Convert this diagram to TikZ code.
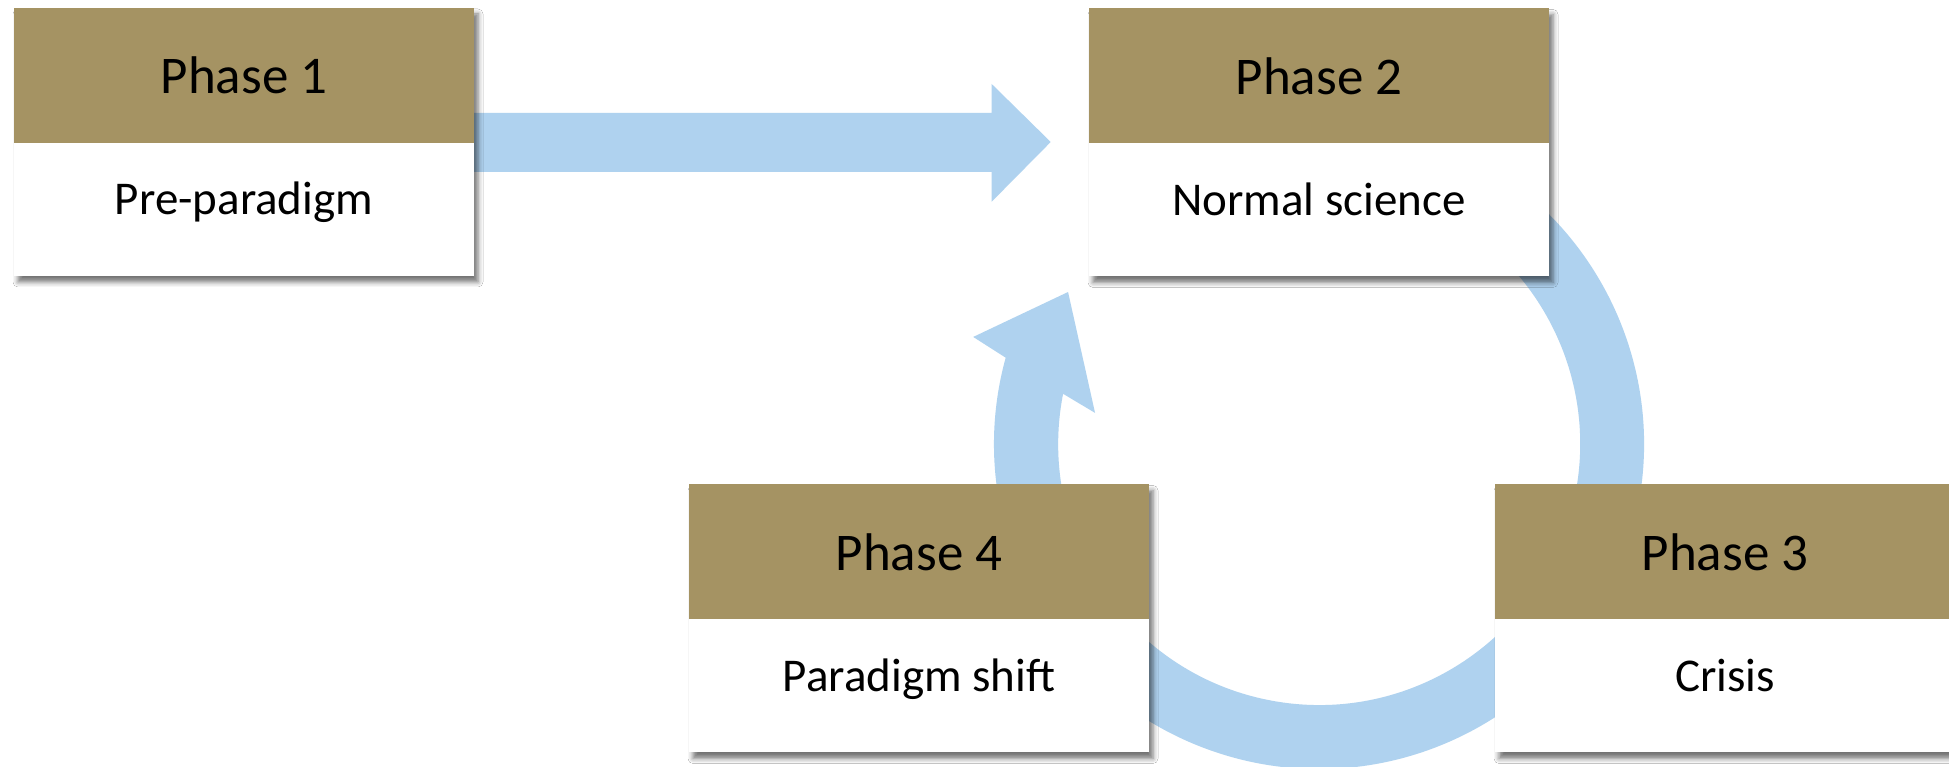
\documentclass[tikz,border=0pt]{standalone}
\usepackage{fontspec}
\setmainfont{Carlito}
\usetikzlibrary{calc,shadows.blur}
\definecolor{hdrgold}{RGB}{165,147,99}
\definecolor{flowblue}{RGB}{175,210,239}
\tikzset{
  boxframe/.style={rectangle, inner sep=0pt, outer sep=0pt, minimum width=460, minimum height=268,
    fill=white, draw=none,
    blur shadow={shadow xshift=4pt, shadow yshift=-6pt, shadow blur radius=5pt, shadow opacity=55}},
  hdr/.style={rectangle, inner sep=0pt, outer sep=0pt, minimum width=460, minimum height=135,
    fill=hdrgold, anchor=north, text height=37pt, text depth=0pt,
    font=\fontsize{53}{60}\selectfont},
  bodytext/.style={rectangle, inner sep=0pt, outer sep=0pt, minimum width=460, minimum height=133,
    anchor=south, text height=11pt, text depth=0pt,
    font=\fontsize{47}{56}\selectfont},
  flow/.style={fill=flowblue, draw=none}
}
\begin{document}
\begin{tikzpicture}[x=1pt,y=1pt]
\useasboundingbox (0,0) rectangle (1949,767);
\clip (0,0) rectangle (1949,767);
\fill[white] (0,0) rectangle (1949,767);

% ring centre
\coordinate (c) at (1319,323);

% straight fat arrow Phase 1 -> Phase 2
\coordinate (s1) at (400,654);
\coordinate (s2) at (400,595);
\coordinate (hb) at (991.7,625);
\coordinate (tip1) at (1050.7,625);
\fill[flow] (s1) -- (hb |- s1) -- (991.7,683) -- (tip1) -- (991.7,565.3) -- (hb |- s2) -- (s2) -- cycle;

% circular arrow
\fill[flow] ($(c)+(70:325)$) arc[start angle=70, end angle=-195.4, radius=325]
  -- ($(c)+(162.8:362)$) -- ($(c)+(148.8:293.4)$) -- ($(c)+(172.1:226.1)$)
  -- ($(c)+(168.9:260.8)$) arc[start angle=-191.1, end angle=70, radius=261] -- cycle;

% Phase 1
\node[boxframe] (p1) at (244,625) {};
\node[hdr] (p1h) at (p1.north) {Phase 1};
\node[bodytext] (p1b) at (p1.south) {Pre-paradigm};

% Phase 2
\node[boxframe] (p2) at (1319,624.5) {};
\node[hdr] (p2h) at (p2.north) {Phase 2};
\node[bodytext] (p2b) at (p2.south) {Normal science};

% Phase 3
\node[boxframe] (p3) at (1725,148.5) {};
\node[hdr] (p3h) at (p3.north) {Phase 3};
\node[bodytext] (p3b) at (p3.south) {Crisis};

% Phase 4
\node[boxframe] (p4) at (919,148.5) {};
\node[hdr] (p4h) at (p4.north) {Phase 4};
\node[bodytext] (p4b) at (p4.south) {Paradigm shift};
\end{tikzpicture}
\end{document}
